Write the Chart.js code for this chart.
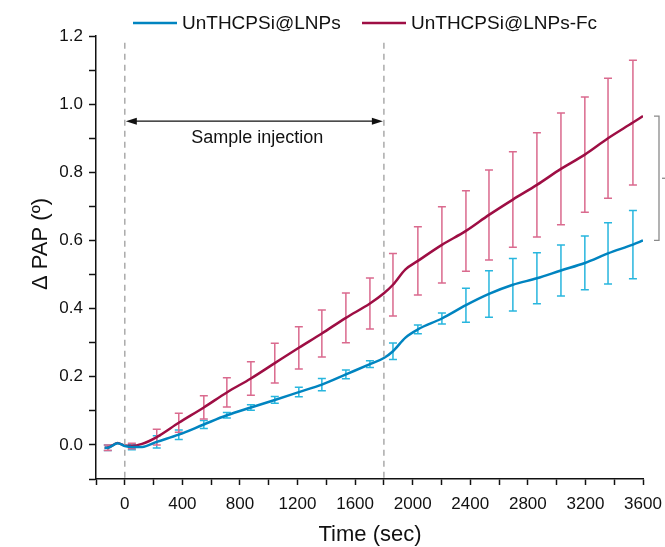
<!DOCTYPE html>
<html>
<head>
<meta charset="utf-8">
<script src="https://cdn.jsdelivr.net/npm/chart.js@4.4.1/dist/chart.umd.min.js"></script>
<style>
  html, body { margin: 0; padding: 0; background: #fff; }
  #wrap { width: 665px; height: 547px; }
</style>
</head>
<body>
<div id="wrap"><canvas id="myChart" width="665" height="547"></canvas></div>
<script>
// time points (sec)
var times = [-140, -118, -50, 0, 49, 120, 222, 375, 549, 709, 876, 1042, 1209, 1369, 1536, 1703, 1800, 1863, 1950, 2036, 2203, 2370, 2530, 2696, 2863, 3030, 3196, 3357, 3530, 3600]

var bluePAP = [-0.008, -0.008, 0.005, -0.003, -0.006, -0.006, 0.009, 0.03, 0.06, 0.087, 0.11, 0.132, 0.155, 0.177, 0.207, 0.237, 0.255, 0.275, 0.315, 0.339, 0.371, 0.41, 0.443, 0.47, 0.489, 0.512, 0.534, 0.562, 0.588, 0.6]
var blueErr = [null, 0.008, null, null, 0.008, null, 0.018, 0.014, 0.012, 0.008, 0.008, 0.01, 0.014, 0.018, 0.013, 0.01, null, 0.024, null, 0.013, 0.016, 0.05, 0.068, 0.077, 0.075, 0.075, 0.079, 0.09, 0.1, null]

var redPAP = [-0.008, -0.008, 0.006, -0.002, -0.003, 0.003, 0.023, 0.065, 0.11, 0.154, 0.195, 0.24, 0.285, 0.327, 0.373, 0.415, 0.445, 0.47, 0.515, 0.54, 0.587, 0.628, 0.675, 0.72, 0.763, 0.81, 0.852, 0.9, 0.946, 0.965]
var redErr = [null, 0.008, null, null, 0.008, null, 0.023, 0.028, 0.034, 0.043, 0.049, 0.058, 0.062, 0.069, 0.073, 0.075, null, 0.092, null, 0.1, 0.112, 0.118, 0.132, 0.14, 0.153, 0.164, 0.169, 0.176, 0.183, null]

var seriesNames = ['UnTHCPSi@LNPs', 'UnTHCPSi@LNPs-Fc']
var injectStart = 0
var injectEnd = 1800

var FONT = '"Liberation Sans", Arial, sans-serif'
var blueLine = 'rgb(0, 132, 192)'
var blueBar = 'rgb(40, 182, 222)'
var redLine = 'rgb(158, 14, 68)'
var redBar = 'rgb(218, 106, 142)'

function toPoints(vals) {
    return times.map(function(t, i) { return { x: t, y: vals[i] } })
}

// error bars, drawn under the lines
var errorBars = {
    id: 'errorBars',
    beforeDatasetsDraw: function(chart) {
        var ctx = chart.ctx
        var xs = chart.scales.x
        var ys = chart.scales.y
        var sets = [[bluePAP, blueErr, blueBar], [redPAP, redErr, redBar]]
        ctx.save()
        ctx.lineWidth = 1.5
        sets.forEach(function(s) {
            ctx.strokeStyle = s[2]
            times.forEach(function(t, i) {
                if (s[1][i] == null) return
                var px = xs.getPixelForValue(t)
                var top = ys.getPixelForValue(s[0][i] + s[1][i])
                var bot = ys.getPixelForValue(s[0][i] - s[1][i])
                ctx.beginPath()
                ctx.moveTo(px, top); ctx.lineTo(px, bot)
                ctx.moveTo(px - 4, top); ctx.lineTo(px + 4, top)
                ctx.moveTo(px - 4, bot); ctx.lineTo(px + 4, bot)
                ctx.stroke()
            })
        })
        ctx.restore()
    }
}

// dashed injection lines, arrow, bracket, legend
var extras = {
    id: 'extras',
    afterDraw: function(chart) {
        var ctx = chart.ctx
        var xs = chart.scales.x
        var ys = chart.scales.y
        var area = chart.chartArea
        var x0 = xs.getPixelForValue(injectStart)
        var x1 = xs.getPixelForValue(injectEnd)
        ctx.save()

        ctx.strokeStyle = '#aaaaaa'
        ctx.lineWidth = 1.5
        ctx.setLineDash([6, 5])
        ;[x0, x1].forEach(function(x) {
            ctx.beginPath()
            ctx.moveTo(x, ys.getPixelForValue(1.18))
            ctx.lineTo(x, area.bottom)
            ctx.stroke()
        })
        ctx.setLineDash([])

        // double arrow
        var ay = ys.getPixelForValue(0.95)
        ctx.strokeStyle = '#111'
        ctx.fillStyle = '#111'
        ctx.lineWidth = 1.2
        ctx.beginPath()
        ctx.moveTo(x0 + 8, ay); ctx.lineTo(x1 - 8, ay)
        ctx.stroke()
        ctx.beginPath()
        ctx.moveTo(x0 + 1, ay); ctx.lineTo(x0 + 12, ay - 3.5); ctx.lineTo(x0 + 12, ay + 3.5); ctx.closePath()
        ctx.fill()
        ctx.beginPath()
        ctx.moveTo(x1 - 1, ay); ctx.lineTo(x1 - 12, ay - 3.5); ctx.lineTo(x1 - 12, ay + 3.5); ctx.closePath()
        ctx.fill()
        ctx.font = '18px ' + FONT
        ctx.textAlign = 'center'
        ctx.textBaseline = 'middle'
        ctx.fillStyle = '#111'
        ctx.fillText('Sample injection', (x0 + x1) / 2 + 3, ay + 17)

        // bracket between the two end values
        var by0 = ys.getPixelForValue(redPAP[redPAP.length - 1])
        var by1 = ys.getPixelForValue(bluePAP[bluePAP.length - 1])
        var bx = area.right + 16
        ctx.strokeStyle = '#8a8a8a'
        ctx.lineWidth = 1.3
        ctx.beginPath()
        ctx.moveTo(bx - 5, by0); ctx.lineTo(bx, by0); ctx.lineTo(bx, by1); ctx.lineTo(bx - 5, by1)
        ctx.stroke()
        ctx.beginPath()
        ctx.moveTo(bx + 3, (by0 + by1) / 2); ctx.lineTo(bx + 7, (by0 + by1) / 2)
        ctx.stroke()

        // legend
        var ly = 23
        var items = [[133, blueLine, seriesNames[0]], [362, redLine, seriesNames[1]]]
        ctx.font = '19px ' + FONT
        ctx.textAlign = 'left'
        items.forEach(function(it) {
            ctx.strokeStyle = it[1]
            ctx.lineWidth = 2.5
            ctx.beginPath()
            ctx.moveTo(it[0], ly); ctx.lineTo(it[0] + 44, ly)
            ctx.stroke()
            ctx.fillStyle = '#111'
            ctx.fillText(it[2], it[0] + 49, ly + 1)
        })

        // axis titles
        ctx.font = '22px ' + FONT
        ctx.textAlign = 'center'
        ctx.fillText('Time (sec)', 370, 535)
        ctx.translate(41, 244)
        ctx.rotate(-Math.PI / 2)
        ctx.fillText('\u0394 PAP (\u00ba)', 0, 0)
        ctx.restore()
    }
}

var ctx = document.getElementById('myChart')

var myChart = new Chart(ctx, {
    type: 'line',
    data: {
        datasets: [
            {
                label: seriesNames[0],
                data: toPoints(bluePAP),
                borderColor: blueLine,
                borderWidth: 2.5,
                pointRadius: 0,
                cubicInterpolationMode: 'monotone'
            },
            {
                label: seriesNames[1],
                data: toPoints(redPAP),
                borderColor: redLine,
                borderWidth: 2.5,
                pointRadius: 0,
                cubicInterpolationMode: 'monotone'
            }
        ]
    },
    plugins: [errorBars, extras],
    options: {
        responsive: false,
        animation: false,
        events: [],
        layout: { padding: { top: 36, right: 22, left: 0, bottom: 0 } },
        plugins: {
            legend: { display: false },
            tooltip: { enabled: false }
        },
        scales: {
            x: {
                type: 'linear',
                min: -200,
                max: 3600,
                afterFit: function(scale) {
                    scale.height = 68
                    scale.paddingLeft = 0
                    scale.paddingRight = 0
                },
                border: { display: true, color: '#111', width: 1.5 },
                grid: { drawOnChartArea: false, drawTicks: true, tickLength: 6, color: '#111', tickWidth: 1.5 },
                ticks: {
                    stepSize: 200,
                    autoSkip: false,
                    maxRotation: 0,
                    padding: 9,
                    color: '#111',
                    font: { family: FONT, size: 17 },
                    callback: function(v) { return (v >= 0 && v % 400 === 0) ? String(v) : '' }
                }
            },
            y: {
                min: -0.1,
                max: 1.2,
                afterFit: function(scale) {
                    scale.width = 96
                    scale.paddingTop = 0
                    scale.paddingBottom = 0
                },
                border: { display: true, color: '#111', width: 1.5 },
                grid: { drawOnChartArea: false, drawTicks: true, tickLength: 7, color: '#111', tickWidth: 1.5 },
                ticks: {
                    stepSize: 0.1,
                    autoSkip: false,
                    padding: 6,
                    color: '#111',
                    font: { family: FONT, size: 17 },
                    callback: function(v) {
                        var k = Math.round(v * 10)
                        return (k >= 0 && k % 2 === 0) ? v.toFixed(1) : ''
                    }
                }
            }
        }
    }
})
</script>
</body>
</html>
